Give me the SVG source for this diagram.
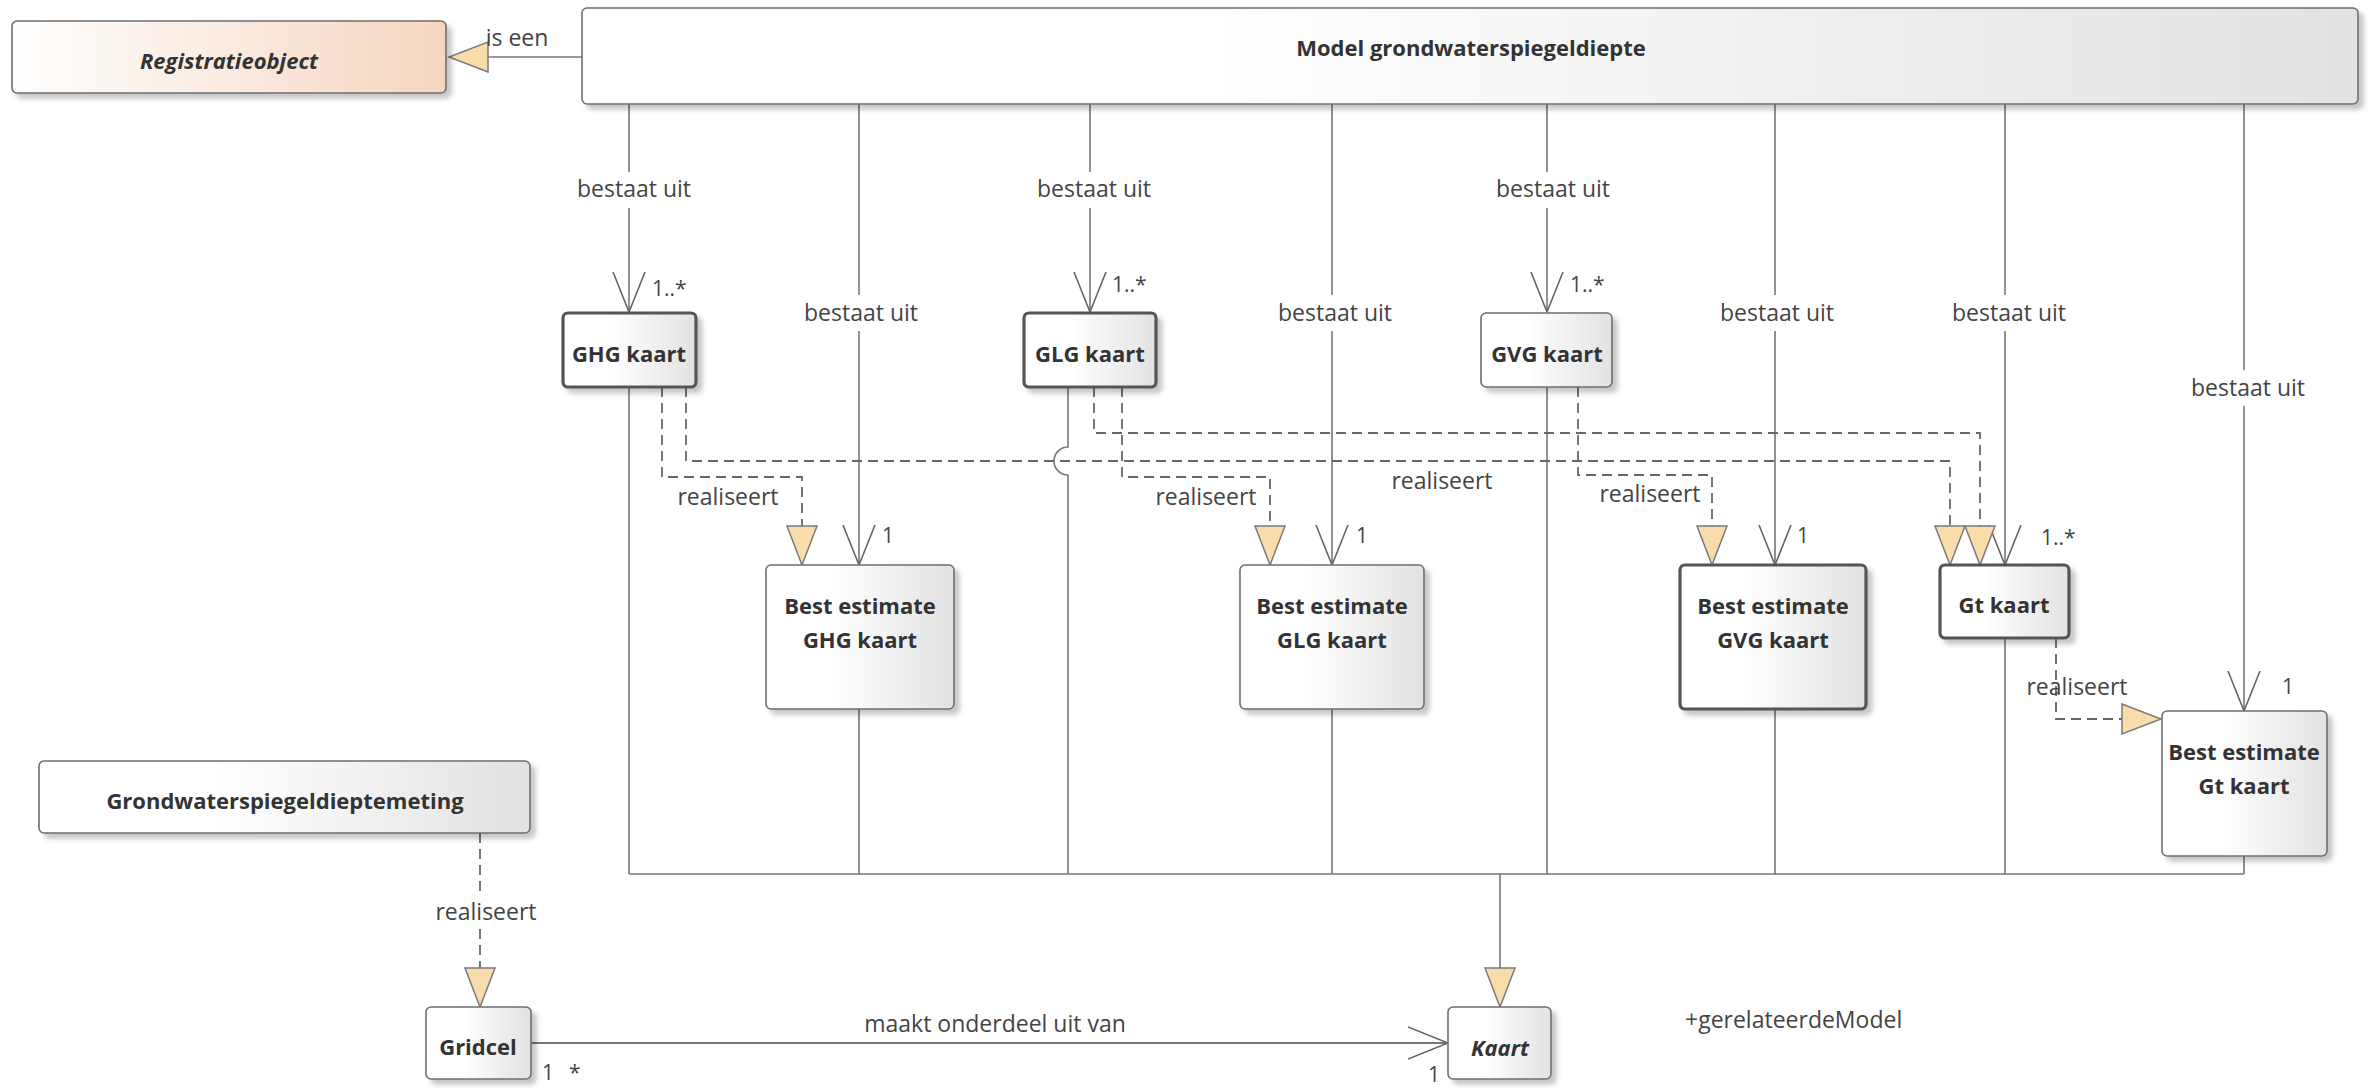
<svg xmlns="http://www.w3.org/2000/svg" width="2371" height="1088" viewBox="0 0 2371 1088">
<style>
  .box { fill: url(#gGrey); stroke: #6e6e6e; stroke-width: 1.6; filter: url(#sh); }
  .bold { stroke: #555; stroke-width: 3.2; }
  .peach { fill: url(#gPeach); }
  .name { font-family: "Open Sans", "Noto Sans", "Liberation Sans", sans-serif; font-size: 22px; font-weight: bold; fill: #333; text-anchor: middle; }
  .ital { font-style: italic; }
  .lbl { font-family: "Open Sans", "Noto Sans", "Liberation Sans", sans-serif; font-size: 23px; fill: #444; text-anchor: middle; }
  .mult { font-family: "Open Sans", "Noto Sans", "Liberation Sans", sans-serif; font-size: 21px; fill: #444; }
  .ln { fill: none; stroke: #777; stroke-width: 1.6; }
  .dash { fill: none; stroke: #666; stroke-width: 1.8; stroke-dasharray: 10 6; }
</style>
<defs>
  <linearGradient id="gGrey" x1="0" y1="0" x2="1" y2="0">
    <stop offset="0" stop-color="#ffffff"/>
    <stop offset="0.35" stop-color="#ffffff"/>
    <stop offset="1" stop-color="#e2e2e2"/>
  </linearGradient>
  <linearGradient id="gPeach" x1="0" y1="0" x2="1" y2="0">
    <stop offset="0" stop-color="#ffffff"/>
    <stop offset="1" stop-color="#f5d6c0"/>
  </linearGradient>
  <filter id="sh" x="-10%" y="-10%" width="130%" height="140%">
    <feDropShadow dx="5" dy="5" stdDeviation="2.5" flood-color="#000" flood-opacity="0.22"/>
  </filter>
  <marker id="open" viewBox="0 0 42 34" refX="40" refY="17" markerWidth="42" markerHeight="34" markerUnits="userSpaceOnUse" orient="auto">
    <path d="M0,1 L40,17 L0,33" fill="none" stroke="#666" stroke-width="1.6"/>
  </marker>
  <marker id="tri" viewBox="0 0 42 34" refX="40" refY="17" markerWidth="42" markerHeight="34" markerUnits="userSpaceOnUse" orient="auto">
    <path d="M1,2 L40,17 L1,32 Z" fill="#f8dcaa" stroke="#7a7a7a" stroke-width="1.5"/>
  </marker>
</defs>
<rect width="2371" height="1088" fill="#ffffff"/>

<g id="connectors">
  <path class="ln" d="M582,57 H449" marker-end="url(#tri)"/>
  <path class="ln" d="M629,104 V172 M629,208 V312" marker-end="url(#open)"/>
  <path class="ln" d="M859,104 V295 M859,331 V565" marker-end="url(#open)"/>
  <path class="ln" d="M1090,104 V172 M1090,208 V312" marker-end="url(#open)"/>
  <path class="ln" d="M1332,104 V295 M1332,331 V565" marker-end="url(#open)"/>
  <path class="ln" d="M1547,104 V172 M1547,208 V312" marker-end="url(#open)"/>
  <path class="ln" d="M1775,104 V295 M1775,331 V565" marker-end="url(#open)"/>
  <path class="ln" d="M2005,104 V295 M2005,331 V565" marker-end="url(#open)"/>
  <path class="ln" d="M2244,104 V370 M2244,406 V711" marker-end="url(#open)"/>
  <path class="ln" d="M629,387 V874"/>
  <path class="ln" d="M859,709 V874"/>
  <path class="ln" d="M1068,387 V447 A14,14 0 0 0 1068,475 V874"/>
  <path class="ln" d="M1332,709 V874"/>
  <path class="ln" d="M1547,387 V874"/>
  <path class="ln" d="M1775,709 V874"/>
  <path class="ln" d="M2005,638 V874"/>
  <path class="ln" d="M2244,856 V874"/>
  <path class="ln" d="M629,874 H2244"/>
  <path class="ln" d="M1500,874 V1007" marker-end="url(#tri)"/>
  <path class="ln" d="M531,1043 H1448" marker-end="url(#open)" style="stroke-width:2"/>
  <path class="dash" d="M662,387 V477 H802 V565" marker-end="url(#tri)"/>
  <path class="dash" d="M686,387 V461 H1950 V565" marker-end="url(#tri)"/>
  <path class="dash" d="M1122,387 V477 H1270 V565" marker-end="url(#tri)"/>
  <path class="dash" d="M1094,387 V433 H1980 V565" marker-end="url(#tri)"/>
  <path class="dash" d="M1578,387 V475 H1712 V565" marker-end="url(#tri)"/>
  <path class="dash" d="M2056,638 V719 H2161" marker-end="url(#tri)"/>
  <path class="dash" d="M480,833 V897 M480,929 V1007" marker-end="url(#tri)"/>

  <text class="lbl" x="517" y="46">is een</text>
  <text class="lbl" x="634" y="197">bestaat uit</text>
  <text class="lbl" x="1094" y="197">bestaat uit</text>
  <text class="lbl" x="1553" y="197">bestaat uit</text>
  <text class="lbl" x="861" y="321">bestaat uit</text>
  <text class="lbl" x="1335" y="321">bestaat uit</text>
  <text class="lbl" x="1777" y="321">bestaat uit</text>
  <text class="lbl" x="2009" y="321">bestaat uit</text>
  <text class="lbl" x="2248" y="396">bestaat uit</text>
  <text class="lbl" x="728" y="505">realiseert</text>
  <text class="lbl" x="1206" y="505">realiseert</text>
  <text class="lbl" x="1442" y="489">realiseert</text>
  <text class="lbl" x="1650" y="502">realiseert</text>
  <text class="lbl" x="2077" y="695">realiseert</text>
  <text class="lbl" x="486" y="920">realiseert</text>
  <text class="lbl" x="995" y="1032">maakt onderdeel uit van</text>
  <text class="lbl" x="1685" y="1028" style="text-anchor:start">+gerelateerdeModel</text>
  <text class="mult" x="652" y="296">1..*</text>
  <text class="mult" x="1112" y="292">1..*</text>
  <text class="mult" x="1570" y="292">1..*</text>
  <text class="mult" x="2041" y="545">1..*</text>
  <text class="mult" x="882" y="543">1</text>
  <text class="mult" x="1356" y="543">1</text>
  <text class="mult" x="1797" y="543">1</text>
  <text class="mult" x="2282" y="694">1</text>
  <text class="mult" x="542" y="1080">1</text>
  <text class="mult" x="569" y="1080">*</text>
  <text class="mult" x="1428" y="1082">1</text>
</g>

<g id="registratieobject">
  <rect class="box peach" x="12" y="21" width="434" height="72" rx="5"/>
  <text class="name ital" x="229" y="69">Registratieobject</text>
</g>
<g id="model">
  <rect class="box" x="582" y="8" width="1776" height="96" rx="5"/>
  <text class="name" x="1471" y="56">Model grondwaterspiegeldiepte</text>
</g>
<g id="ghg-kaart">
  <rect class="box bold" x="563" y="313" width="133" height="74" rx="5"/>
  <text class="name" x="629" y="362">GHG kaart</text>
</g>
<g id="glg-kaart">
  <rect class="box bold" x="1024" y="313" width="132" height="74" rx="5"/>
  <text class="name" x="1090" y="362">GLG kaart</text>
</g>
<g id="gvg-kaart">
  <rect class="box" x="1481" y="313" width="131" height="74" rx="5"/>
  <text class="name" x="1547" y="362">GVG kaart</text>
</g>
<g id="be-ghg-kaart">
  <rect class="box" x="766" y="565" width="188" height="144" rx="5"/>
  <text class="name" x="860" y="614">Best estimate</text>
  <text class="name" x="860" y="648">GHG kaart</text>
</g>
<g id="be-glg-kaart">
  <rect class="box" x="1240" y="565" width="184" height="144" rx="5"/>
  <text class="name" x="1332" y="614">Best estimate</text>
  <text class="name" x="1332" y="648">GLG kaart</text>
</g>
<g id="be-gvg-kaart">
  <rect class="box bold" x="1680" y="565" width="186" height="144" rx="5"/>
  <text class="name" x="1773" y="614">Best estimate</text>
  <text class="name" x="1773" y="648">GVG kaart</text>
</g>
<g id="gt-kaart">
  <rect class="box bold" x="1940" y="565" width="129" height="73" rx="5"/>
  <text class="name" x="2004" y="613">Gt kaart</text>
</g>
<g id="be-gt-kaart">
  <rect class="box" x="2162" y="711" width="165" height="145" rx="5"/>
  <text class="name" x="2244" y="760">Best estimate</text>
  <text class="name" x="2244" y="794">Gt kaart</text>
</g>
<g id="grondwaterspiegeldieptemeting">
  <rect class="box" x="39" y="761" width="491" height="72" rx="5"/>
  <text class="name" x="285" y="809">Grondwaterspiegeldieptemeting</text>
</g>
<g id="gridcel">
  <rect class="box" x="426" y="1007" width="105" height="72" rx="5"/>
  <text class="name" x="478" y="1055">Gridcel</text>
</g>
<g id="kaart">
  <rect class="box" x="1448" y="1007" width="103" height="72" rx="5"/>
  <text class="name ital" x="1500" y="1056">Kaart</text>
</g>
</svg>
